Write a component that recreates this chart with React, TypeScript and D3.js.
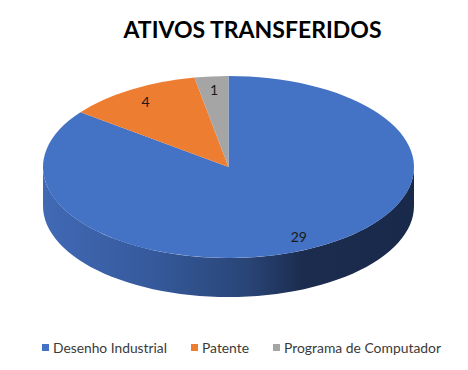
import React from "react";
import * as d3 from "d3";

const categories = ["Desenho Industrial", "Patente", "Programa de Computador"];
const values = [29, 4, 1];
const colors = ["#4472C4", "#ED7D31", "#A5A5A5"];

const width = 468;
const height = 370;

// pie geometry (tilted ellipse)
const cx = 228.5;
const cy = 167;
const rx = 185.5;
const ry = 91;
const depth = 39;

// legend layout (x of the swatch, text width)
const legendX = [42, 191, 273];
const legendW = [114, 47, 157];

function sidePath() {
  const p = d3.path();
  p.moveTo(cx + rx, cy);
  p.lineTo(cx + rx, cy + depth);
  // bottom front edge, drawn in segments along the ellipse
  const steps = 60;
  for (let i = 0; i <= steps; i++) {
    const t = (Math.PI * i) / steps;
    p.lineTo(cx + rx * Math.cos(t), cy + depth + ry * Math.sin(t));
  }
  p.lineTo(cx - rx, cy);
  for (let i = steps; i >= 0; i--) {
    const t = (Math.PI * i) / steps;
    p.lineTo(cx + rx * Math.cos(t), cy + ry * Math.sin(t));
  }
  p.closePath();
  return p.toString();
}

export default function App() {
  const data = categories.map((c, i) => ({ name: c, value: values[i], color: colors[i] }));

  const pie = d3
    .pie<any>()
    .sort(null)
    .value((d) => d.value)
    .startAngle(0)
    .endAngle(2 * Math.PI);
  const arcs = pie(data);

  const arc = d3.arc<any>().innerRadius(0).outerRadius(rx);
  const labelArc = d3.arc<any>().innerRadius(rx * 0.85).outerRadius(rx * 0.85);
  const sy = ry / rx;

  return (
    <svg
      width={width}
      height={height}
      style={{ position: "absolute", left: 0, top: 0, background: "#fff" }}
    >
      <defs>
        <linearGradient id="side" gradientUnits="userSpaceOnUse" x1={cx - rx} x2={cx + rx} y1={0} y2={0}>
          <stop offset="0" stopColor="#4169b5" />
          <stop offset="0.3" stopColor="#35599b" />
          <stop offset="0.55" stopColor="#294577" />
          <stop offset="0.7" stopColor="#1c2c4f" />
          <stop offset="1" stopColor="#19294a" />
        </linearGradient>
      </defs>

      <text
        x={252.5}
        y={38}
        textAnchor="middle"
        fontFamily="Lato, 'Liberation Sans', sans-serif"
        fontWeight="bold"
        fontSize={22}
        textLength={258}
        lengthAdjust="spacingAndGlyphs"
        fill="#000"
      >
        ATIVOS TRANSFERIDOS
      </text>

      <path d={sidePath()} fill="url(#side)" />

      <g transform={`translate(${cx},${cy}) scale(1,${sy})`}>
        {arcs.map((a, i) => (
          <path key={i} d={arc(a) as string} fill={a.data.color} />
        ))}
      </g>

      {arcs.map((a, i) => {
        const [lx, ly] = labelArc.centroid(a);
        return (
          <text
            key={i}
            x={cx + lx}
            y={cy + ly * sy}
            textAnchor="middle"
            dominantBaseline="central"
            fontFamily="Lato, 'Liberation Sans', sans-serif"
            fontSize={14}
            fill="#1a1a1a"
          >
            {a.data.value}
          </text>
        );
      })}

      {data.map((d, i) => (
        <g key={i}>
          <rect x={legendX[i]} y={344} width={7} height={7} fill={d.color} />
          <text
            x={legendX[i] + 11}
            y={352.5}
            fontFamily="Lato, 'Liberation Sans', sans-serif"
            fontSize={14}
            textLength={legendW[i]}
            lengthAdjust="spacingAndGlyphs"
            fill="#3a3a3a"
          >
            {d.name}
          </text>
        </g>
      ))}
    </svg>
  );
}
